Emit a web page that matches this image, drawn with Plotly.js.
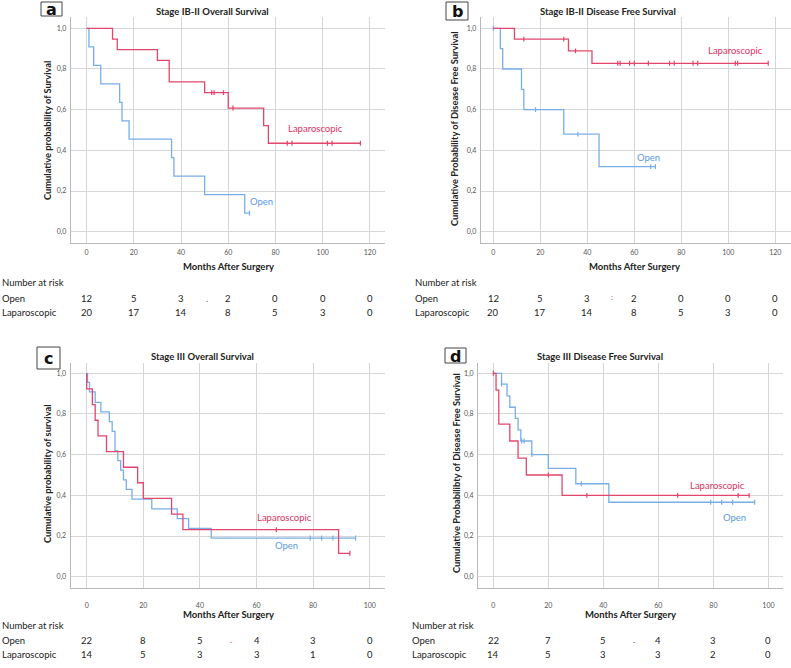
<!DOCTYPE html>
<html><head><meta charset="utf-8">
<script src="https://cdn.plot.ly/plotly-3.0.1.min.js"></script>
<style>html,body{margin:0;padding:0;background:#fff;}#chart{width:791px;height:668px;}</style>
</head><body><div id="chart"></div>
<script>
// ---------- DATA ----------
// Panel a: Stage IB-II Overall Survival
const aOpenT = [0, 1, 3, 6, 14, 15, 18, 36, 37, 50, 67, 69];
const aOpenS = [1, 0.909, 0.818, 0.727, 0.636, 0.545, 0.455, 0.364, 0.273, 0.182, 0.091, 0.091];
const aOpenCens = [69];
const aLapT = [0, 11, 13, 30, 35, 50, 60, 75, 77, 116];
const aLapS = [1, 0.947, 0.895, 0.842, 0.737, 0.684, 0.608, 0.522, 0.435, 0.435];
const aLapCens = [53, 54, 58, 62, 85, 87, 102, 104, 116];
// Panel b: Stage IB-II Disease Free Survival
const bOpenT = [0, 3, 4, 12, 13, 30, 45, 69];
const bOpenS = [1, 0.9, 0.8, 0.7, 0.6, 0.48, 0.32, 0.32];
const bOpenCens = [0, 18, 36, 67, 69];
const bLapT = [0, 9, 32, 42, 117];
const bLapS = [1, 0.947, 0.889, 0.828, 0.828];
const bLapCens = [13, 30, 35, 53, 54, 58, 60, 66, 75, 77, 85, 87, 103, 104, 117];
// Panel c: Stage III Overall Survival
const cOpenT = [0, 0.3, 1, 3, 5, 8, 9, 10, 11, 12, 13, 14, 16, 23, 32, 36, 44, 95];
const cOpenS = [1, 0.955, 0.909, 0.857, 0.81, 0.762, 0.714, 0.619, 0.571, 0.524, 0.476, 0.429, 0.381, 0.333, 0.286, 0.238, 0.19, 0.19];
const cOpenCens = [79, 83, 87, 95];
const cLapT = [0, 0, 2, 3, 4, 7, 13, 18, 20, 30, 34, 89, 93];
const cLapS = [1, 0.923, 0.846, 0.769, 0.692, 0.615, 0.538, 0.462, 0.385, 0.308, 0.231, 0.115, 0.115];
const cLapCens = [67, 93];
// Panel d: Stage III Disease Free Survival
const dOpenT = [0, 3, 5, 6, 8, 9, 10, 14, 20, 30, 42, 95];
const dOpenS = [1, 0.947, 0.889, 0.833, 0.778, 0.722, 0.667, 0.6, 0.533, 0.457, 0.366, 0.366];
const dOpenCens = [3, 10.3, 11.2, 14, 32, 79, 83, 87, 95];
const dLapT = [0, 1, 2, 6, 9, 12, 25, 93];
const dLapS = [1, 0.917, 0.75, 0.667, 0.583, 0.5, 0.4, 0.4];
const dLapCens = [0, 20, 34, 67, 89, 93];

// Number at risk
const riskTimesAB = [0, 20, 40, 60, 80, 100, 120];
const riskTimesCD = [0, 20, 40, 60, 80, 100];
const aRiskOpen = ['12', '5', '3', '2', '0', '0', '0'];
const aRiskLap = ['20', '17', '14', '8', '5', '3', '0'];
const bRiskOpen = ['12', '5', '3', '2', '0', '0', '0'];
const bRiskLap = ['20', '17', '14', '8', '5', '3', '0'];
const cRiskOpen = ['22', '8', '5', '4', '3', '0'];
const cRiskLap = ['14', '5', '3', '3', '1', '0'];
const dRiskOpen = ['22', '7', '5', '4', '3', '0'];
const dRiskLap = ['14', '5', '3', '3', '2', '0'];

const panelTitles = ['Stage IB-II Overall Survival', 'Stage IB-II Disease Free Survival',
  'Stage III Overall Survival', 'Stage III Disease Free Survival'];
const yTitles = ['Cumulative probability of Survival', 'Cumulative Probability of Disease Free Survival',
  'Cumulative probability of survival', 'Cumulative Probabilibty of Disease Free Survival'];
const panelLetters = ['a', 'b', 'c', 'd'];
const groupNames = ['Open', 'Laparoscopic'];

// ---------- STYLE / LAYOUT ----------
const W = 791, H = 668;
const px = x => x / W;
const py = y => 1 - y / H;
const RED = '#e4456c', BLUE = '#78aee8';
const RED_T = '#e0315f', BLUE_T = '#5a9ae2';
const FONT = 'Lato, "Open Sans", sans-serif';

function survAt(T, S, t) { let s = S[0]; for (let i = 0; i < T.length; i++) if (T[i] <= t) s = S[i]; return s; }

const traces = [];
function addCurve(T, S, C, color, xa, ya, name) {
  traces.push({x: T, y: S, type: 'scatter', mode: 'lines', line: {shape: 'hv', color: color, width: 1.3},
    xaxis: xa, yaxis: ya, name: name, showlegend: false, hoverinfo: 'skip'});
  traces.push({x: C, y: C.map(t => survAt(T, S, t)), type: 'scatter', mode: 'markers',
    marker: {symbol: 'line-ns-open', size: 3.5, color: color, line: {color: color, width: 1.2}},
    xaxis: xa, yaxis: ya, showlegend: false, hoverinfo: 'skip'});
}
addCurve(aOpenT, aOpenS, aOpenCens, BLUE, 'x', 'y', 'Open');
addCurve(aLapT, aLapS, aLapCens, RED, 'x', 'y', 'Laparoscopic');
addCurve(bOpenT, bOpenS, bOpenCens, BLUE, 'x2', 'y2', 'Open');
addCurve(bLapT, bLapS, bLapCens, RED, 'x2', 'y2', 'Laparoscopic');
addCurve(cOpenT, cOpenS, cOpenCens, BLUE, 'x3', 'y3', 'Open');
addCurve(cLapT, cLapS, cLapCens, RED, 'x3', 'y3', 'Laparoscopic');
addCurve(dOpenT, dOpenS, dOpenCens, BLUE, 'x4', 'y4', 'Open');
addCurve(dLapT, dLapS, dLapCens, RED, 'x4', 'y4', 'Laparoscopic');

function xax(d, r, anchor, standoff) {
  return {domain: d, range: r, anchor: anchor, dtick: 20, tick0: 0, showgrid: true, gridcolor: '#d6d6d6', gridwidth: 1,
    zeroline: false, showline: true, linecolor: '#b8b8b8', linewidth: 1.2, ticks: '', ticklabelstandoff: standoff,
    tickfont: {family: FONT, size: 7, color: '#555'}, fixedrange: true};
}
function yax(d, r, anchor) {
  return {domain: d, range: r, anchor: anchor, dtick: 0.2, tick0: 0, tickformat: '.1f', showgrid: true, gridcolor: '#d6d6d6',
    gridwidth: 1, zeroline: false, showline: true, linecolor: '#b8b8b8', linewidth: 1.2, ticks: '', ticklabelstandoff: 2,
    tickfont: {family: FONT, size: 7, color: '#555'}, fixedrange: true};
}
const topY = [py(242.7), py(17)];
const botY = [py(587.7), py(362.7)];

const ann = [];
function txt(x, y, text, opts) {
  ann.push(Object.assign({x: px(x), y: py(y), xref: 'paper', yref: 'paper', text: text, showarrow: false,
    xanchor: 'center', yanchor: 'middle', font: {family: FONT, size: 10, color: '#222'}}, opts || {}));
}
const TF = {family: FONT, size: 9.5, color: '#222'};
// titles
txt(212, 11, '<b>' + panelTitles[0] + '</b>', {font: TF});
txt(608, 11, '<b>' + panelTitles[1] + '</b>', {font: TF});
txt(202, 356, '<b>' + panelTitles[2] + '</b>', {font: TF});
txt(600, 356, '<b>' + panelTitles[3] + '</b>', {font: TF});
// y titles
const YF = {family: FONT, size: 9.3, color: '#222'};
txt(47, 131, '<b>' + yTitles[0] + '</b>', {textangle: -90, font: YF});
txt(455, 129, '<b>' + yTitles[1] + '</b>', {textangle: -90, font: YF});
txt(47, 474, '<b>' + yTitles[2] + '</b>', {textangle: -90, font: YF});
txt(456, 473, '<b>' + yTitles[3] + '</b>', {textangle: -90, font: YF});
// x titles
[[228, 266], [634, 266], [228, 614], [630, 614]].forEach(c => {
  txt(c[0], c[1], '<b>Months After Surgery</b>', {font: TF});
});
// letters
const boxes = [[41, 2, 62, 16], [446, 2, 468, 20], [37, 347, 60, 369], [445, 348, 466, 363]];
const shapes = boxes.map(b => ({type: 'rect', xref: 'paper', yref: 'paper', x0: px(b[0]), x1: px(b[2]), y0: py(b[3]), y1: py(b[1]),
  line: {color: '#444', width: 1}, fillcolor: 'rgba(0,0,0,0)'}));
boxes.forEach((b, i) => txt((b[0] + b[2]) / 2, (b[1] + b[3]) / 2 + 0.5, '<b>' + panelLetters[i] + '</b>',
  {font: {family: 'DejaVu Sans, sans-serif', size: 16, color: '#111'}}));
// curve labels (data coordinates)
function lab(xa, ya, x, y, text, color) {
  ann.push({xref: xa, yref: ya, x: x, y: y, text: text, showarrow: false, xanchor: 'center', yanchor: 'middle',
    font: {family: FONT, size: 9.5, color: color}});
}
lab('x', 'y', 97, 0.505, groupNames[1], RED_T);
lab('x', 'y', 74, 0.147, groupNames[0], BLUE_T);
lab('x2', 'y2', 103, 0.89, groupNames[1], RED_T);
lab('x2', 'y2', 66, 0.364, groupNames[0], BLUE_T);
lab('x3', 'y3', 70, 0.29, groupNames[1], RED_T);
lab('x3', 'y3', 70.5, 0.152, groupNames[0], BLUE_T);
lab('x4', 'y4', 81.5, 0.45, groupNames[1], RED_T);
lab('x4', 'y4', 87.8, 0.29, groupNames[0], BLUE_T);
// number at risk tables
function riskTable(xa, leftX, yTop, times, openV, lapV) {
  const f = {family: FONT, size: 9.5, color: '#222'};
  txt(leftX, yTop, 'Number at risk', {xanchor: 'left', font: f});
  txt(leftX, yTop + 15, groupNames[0], {xanchor: 'left', font: f});
  txt(leftX, yTop + 29, groupNames[1], {xanchor: 'left', font: f});
  times.forEach((t, i) => {
    ann.push({xref: xa, yref: 'paper', x: t, y: py(yTop + 15), text: openV[i], showarrow: false, xanchor: 'center', yanchor: 'middle', font: f});
    ann.push({xref: xa, yref: 'paper', x: t, y: py(yTop + 29), text: lapV[i], showarrow: false, xanchor: 'center', yanchor: 'middle', font: f});
  });
}
riskTable('x', 0, 283, riskTimesAB, aRiskOpen, aRiskLap);
riskTable('x2', 413, 283, riskTimesAB, bRiskOpen, bRiskLap);
riskTable('x3', 0, 625, riskTimesCD, cRiskOpen, cRiskLap);
riskTable('x4', 410, 625, riskTimesCD, dRiskOpen, dRiskLap);
// stray marks present in the source figure
txt(207, 298, '.', {font: {family: FONT, size: 9, color: '#555'}});
txt(612, 297, ':', {font: {family: FONT, size: 8, color: '#e0315f'}});
txt(231, 639, '.', {font: {family: FONT, size: 9, color: '#e0315f'}});
txt(634, 639, '.', {font: {family: FONT, size: 9, color: '#555'}});

const layout = {
  width: W, height: H, margin: {l: 0, r: 0, t: 0, b: 0}, paper_bgcolor: '#fff', plot_bgcolor: '#fff',
  separators: ',.', showlegend: false, font: {family: FONT},
  xaxis: xax([px(71), px(385)], [-6.6, 126.4], 'y', 3),
  yaxis: yax(topY, [-0.054, 1.0556], 'x'),
  xaxis2: xax([px(481), 1], [-5.23, 126.7], 'y2', 3),
  yaxis2: yax(topY, [-0.054, 1.0556], 'x2'),
  xaxis3: xax([px(70.7), px(385)], [-5.65, 105.4], 'y3', 11),
  yaxis3: yax(botY, [-0.054, 1.052], 'x3'),
  xaxis4: xax([px(478.3), px(783)], [-5.45, 105.3], 'y4', 11),
  yaxis4: yax(botY, [-0.054, 1.052], 'x4'),
  annotations: ann, shapes: shapes
};
Plotly.newPlot('chart', traces, layout, {displayModeBar: false, staticPlot: true});
</script></body></html>
